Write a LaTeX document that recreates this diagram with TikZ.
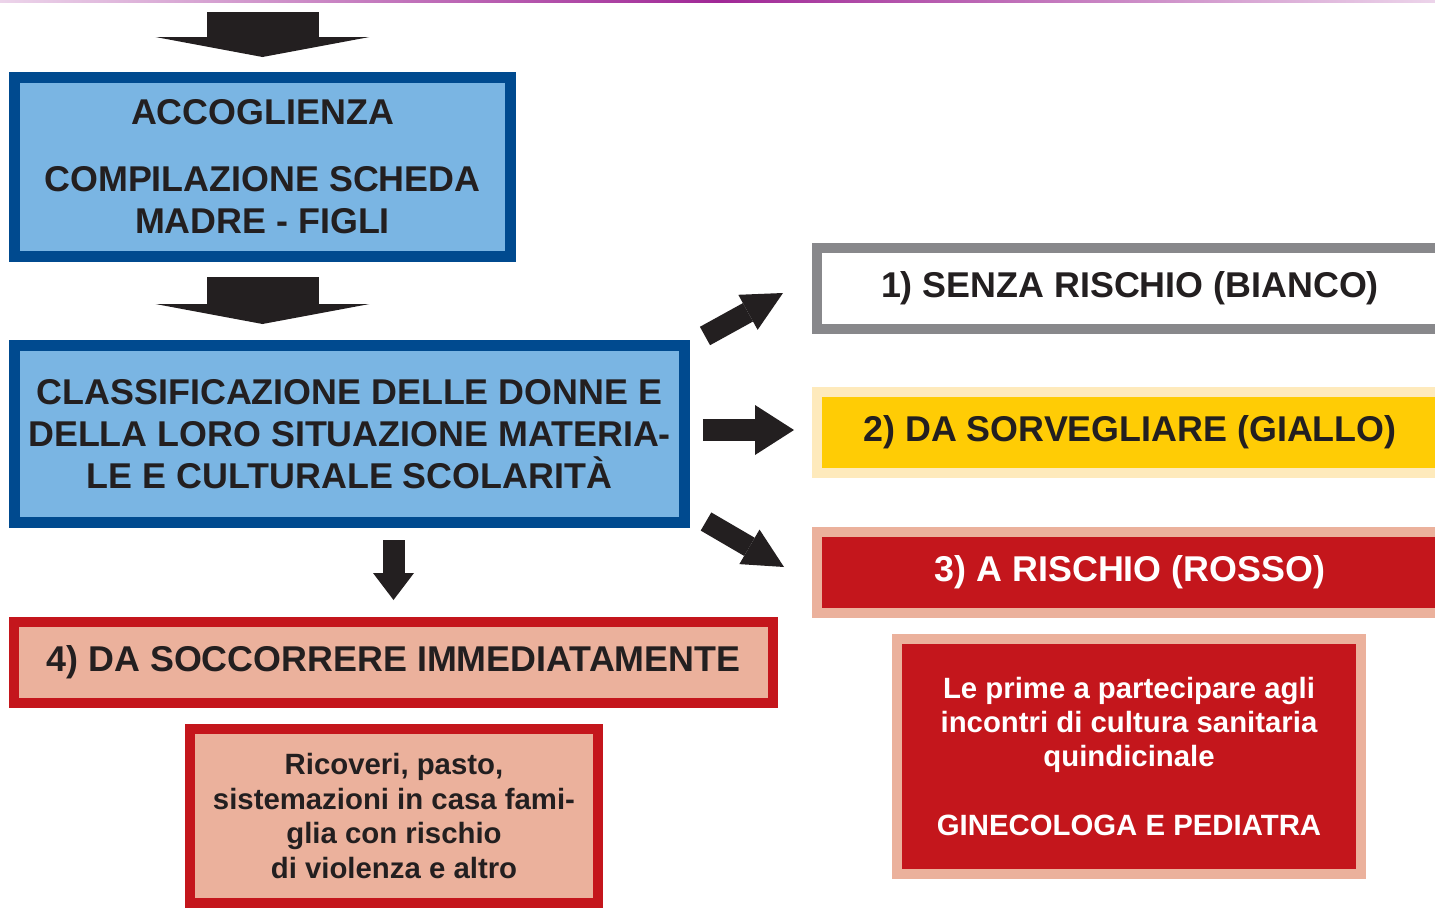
\documentclass[tikz,border=0pt]{standalone}
\usepackage{fontspec}
\setmainfont{Liberation Sans}
\usepackage{xcolor}
\usepackage{tikz}
\usetikzlibrary{arrows.meta,calc}

\definecolor{bluedark}{RGB}{0,74,143}
\definecolor{bluelight}{RGB}{122,181,227}
\definecolor{redcol}{RGB}{196,22,28}
\definecolor{salmon}{RGB}{235,177,156}
\definecolor{yellowcol}{RGB}{255,204,5}
\definecolor{yellowlight}{RGB}{254,234,188}
\definecolor{greycol}{RGB}{136,136,139}
\definecolor{textdark}{RGB}{35,31,32}
\definecolor{magline}{RGB}{160,40,150}

\tikzset{
    bigtext/.style={font=\bfseries\fontsize{10.2}{12}\selectfont, align=center, inner sep=0pt},
    smalltext/.style={font=\bfseries\fontsize{8.35}{9.8}\selectfont, align=center, inner sep=0pt},
    bluebox/.style={draw=bluedark, fill=bluelight, line width=1.1mm, text=textdark},
    pinkbox/.style={draw=redcol, fill=salmon, line width=1mm, text=textdark},
    redbox/.style={draw=salmon, fill=redcol, line width=1mm, text=white},
    bigdown/.style={textdark, line width=11.2mm, -{Triangle[width=21.4mm,length=2mm,line width=0pt]}},
    fatarrow/.style={textdark, line width=2.1mm, -{Triangle[width=4mm,length=4mm,line width=0pt]}},
}

\begin{document}
\begin{tikzpicture}[x=0.1mm,y=-0.1mm]
    \useasboundingbox (0,0) rectangle (1435,908);
    \clip (0,0) rectangle (1435,908);

    % thin line on top
    \shade[left color=magline!20, right color=magline!20, middle color=magline] (0,0) rectangle (1435,2.5);

    % left column
    \node[bluebox, bigtext, minimum width=49.6mm, minimum height=17.9mm] (acc) at (262.5,167)
        {ACCOGLIENZA\\[7pt]COMPILAZIONE SCHEDA\\MADRE - FIGLI};
    \node[bluebox, bigtext, minimum width=67mm, minimum height=17.7mm] (classif) at (349.5,434)
        {CLASSIFICAZIONE DELLE DONNE E\\DELLA LORO SITUAZIONE MATERIA-\\LE E CULTURALE SCOLARITÀ};
    \node[pinkbox, bigtext, minimum width=75.9mm, minimum height=8.1mm] (soccorso) at (393.5,662.5)
        {4) DA SOCCORRERE IMMEDIATAMENTE};
    \node[pinkbox, smalltext, minimum width=40.8mm, minimum height=17.4mm] (ricoveri) at (394,816)
        {Ricoveri, pasto,\\sistemazioni in casa fami-\\glia con rischio\\di violenza e altro};

    % right column
    \node[draw=greycol, fill=white, line width=1mm, text=textdark, bigtext,
        minimum width=62.6mm, minimum height=8.1mm] (bianco) at (1130,288.5)
        {1) SENZA RISCHIO (BIANCO)};
    \node[draw=yellowlight, fill=yellowcol, line width=1mm, text=textdark, bigtext,
        minimum width=62.6mm, minimum height=8.1mm] (giallo) at (1130,432.5)
        {2) DA SORVEGLIARE (GIALLO)};
    \node[redbox, bigtext, minimum width=62.6mm, minimum height=8.1mm] (rosso) at (1130,572.5)
        {3) A RISCHIO (ROSSO)};
    \node[redbox, smalltext, minimum width=46.4mm, minimum height=23.5mm] (incontri) at (1129,756.5)
        {Le prime a partecipare agli\\incontri di cultura sanitaria\\quindicinale\\[9.8pt]GINECOLOGA E PEDIATRA};

    % block arrows
    \coordinate (top) at (262.5,12);
    \draw[bigdown, shorten >=1.5mm] (top) -- (acc.north);
    \draw[bigdown, shorten <=1.5mm, shorten >=1.6mm] (acc.south) -- (acc.south |- classif.north);
    \draw[textdark, line width=2.2mm, -{Triangle[width=4.1mm,length=2.7mm,line width=0pt]},
        shorten <=1.2mm, shorten >=1.7mm] (soccorso.north |- classif.south) -- (soccorso.north);

    \draw[fatarrow] ($(classif.north east)+(15,-4)$) -- ($(bianco.south west)+(-29,-41)$);
    \draw[fatarrow, line width=2.2mm, -{Triangle[width=5mm,length=3.9mm,line width=0pt]}]
        ($(classif.east)+(13,-4)$) -- ($(giallo.west)+(-18,-2.5)$);
    \draw[fatarrow] ($(classif.south east)+(16,-6.5)$) -- ($(rosso.north west)+(-28,40)$);

\end{tikzpicture}
\end{document}
